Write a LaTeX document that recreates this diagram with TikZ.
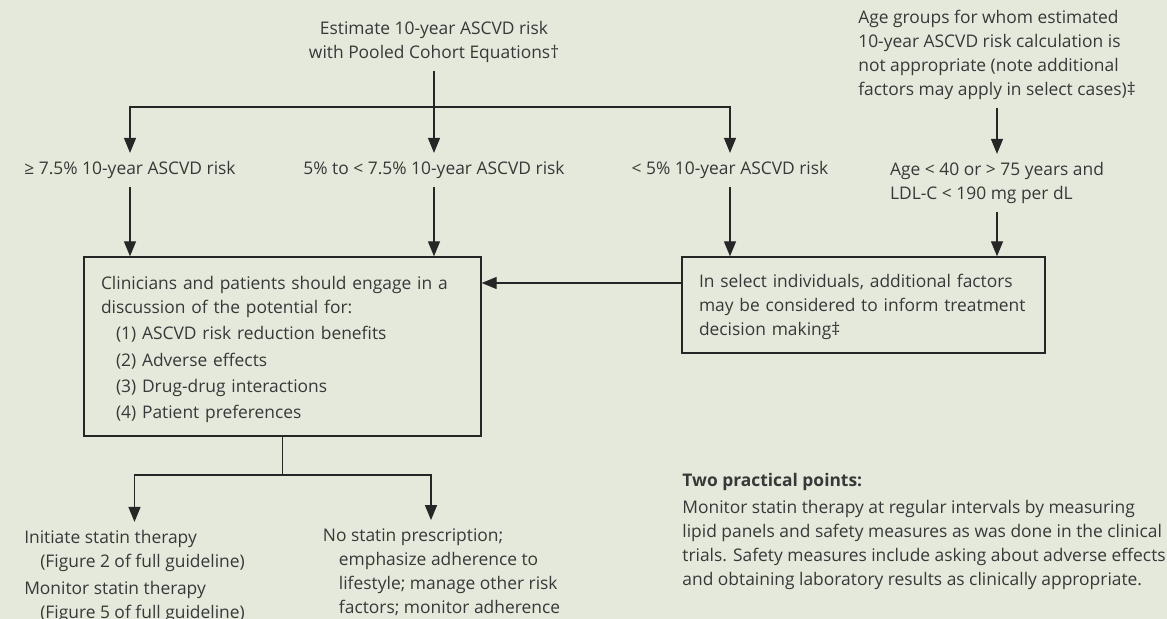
\documentclass[tikz,border=0pt]{standalone}
\usepackage{fontspec}
\setmainfont{Open Sans}
\usetikzlibrary{arrows.meta}
\definecolor{panelgreen}{HTML}{E4E9DC}
\definecolor{inkgray}{HTML}{383838}
\definecolor{rulegray}{HTML}{262626}

\begin{document}
\begin{tikzpicture}[x=0.5pt, y=-0.5pt,
  lbl/.style={font=\fontsize{8.7}{12}\selectfont, text=inkgray, align=left,
    inner xsep=0pt, inner ysep=4pt},
  box/.style={draw=rulegray, line width=0.7pt, font=\fontsize{8.7}{12}\selectfont,
    text=inkgray, align=left, inner xsep=8.5pt},
  link/.style={line width=0.7pt, draw=rulegray},
  arrow/.style={link, -{Triangle[length=7.5pt,width=6pt]}}
]
\useasboundingbox (0,0) rectangle (1167,619);
\fill[panelgreen] (0,0) rectangle (1167,619);

% top row
\node[lbl, align=center] (estimate) at (434,42) {Estimate 10-year ASCVD risk\\
  with Pooled Cohort Equations†};
\node[lbl] (agegroups) at (997,55) {Age groups for whom estimated\\
  10-year ASCVD risk calculation is\\not appropriate (note additional\\
  factors may apply in select cases)‡};

% risk groups
\node[lbl] (high) at (130,170) {≥ 7.5\% 10-year ASCVD risk};
\node[lbl] (mid) at (434,170) {5\% to < 7.5\% 10-year ASCVD risk};
\node[lbl] (low) at (730,170) {< 5\% 10-year ASCVD risk};
\node[lbl] (age) at (997,183) {Age < 40 or > 75 years and\\LDL-C < 190 mg per dL};

% boxes
\node[box, minimum width=198.5pt, minimum height=89.5pt, text width=181.5pt] (discuss)
  at (282.5,346.5) {\rule{0pt}{9.6pt}Clinicians and patients should engage in a\\
  discussion of the potential for:\\[1.2pt]
  \hspace*{7.5pt}(1) ASCVD risk reduction benefits\\[1.2pt]
  \hspace*{7.5pt}(2) Adverse effects\\[1.2pt]
  \hspace*{7.5pt}(3) Drug-drug interactions\\[1.2pt]
  \hspace*{7.5pt}(4) Patient preferences};
\node[box, minimum width=181.5pt, minimum height=48pt, text width=164.5pt] (select)
  at (863.5,305) {\rule{0pt}{8.6pt}In select individuals, additional factors\\
  may be considered to inform treatment\\decision making‡};

% outcomes
\node[lbl] (initiate) at (134.5,576.5) {Initiate statin therapy\\
  \hspace*{8pt}(Figure 2 of full guideline)\\[1.5pt]
  Monitor statin therapy\\
  \hspace*{8pt}(Figure 5 of full guideline)};
\node[lbl] (nostatin) at (441.5,572) {No statin prescription;\\
  \hspace*{8pt}emphasize adherence to\\
  \hspace*{8pt}lifestyle; manage other risk\\
  \hspace*{8pt}factors; monitor adherence};
\node[lbl, anchor=north west, inner sep=0pt] (points) at (682,473)
  {\textbf{Two practical points:}\\[1.5pt]
  Monitor statin therapy at regular intervals by measuring\\
  lipid panels and safety measures as was done in the clinical\\
  trials. Safety measures include asking about adverse effects\\
  and obtaining laboratory results as clinically appropriate.};

% connectors
\coordinate (split) at (estimate.south |- 0,107);
\draw[arrow] (estimate.south) -- (mid.north);
\draw[arrow] (split) -| (high.north);
\draw[arrow] (split) -| (low.north);
\draw[arrow] (agegroups.south) -- (age.north);
\draw[arrow] (high.south) -- (high.south |- discuss.north);
\draw[arrow] (mid.south) -- (mid.south |- discuss.north);
\draw[arrow] (low.south) -- (low.south |- select.north);
\draw[arrow] (age.south) -- (age.south |- select.north);
\draw[arrow] ([yshift=11pt]select.west) -- ([yshift=11pt]select.west -| discuss.east);
\coordinate (branch) at (discuss.south |- 0,475);
\draw[link] (discuss.south) -- (branch);
\draw[arrow] (branch) -| (initiate.north);
\draw[arrow] (branch) -| ([xshift=-5.25pt]nostatin.north);
\end{tikzpicture}
\end{document}
